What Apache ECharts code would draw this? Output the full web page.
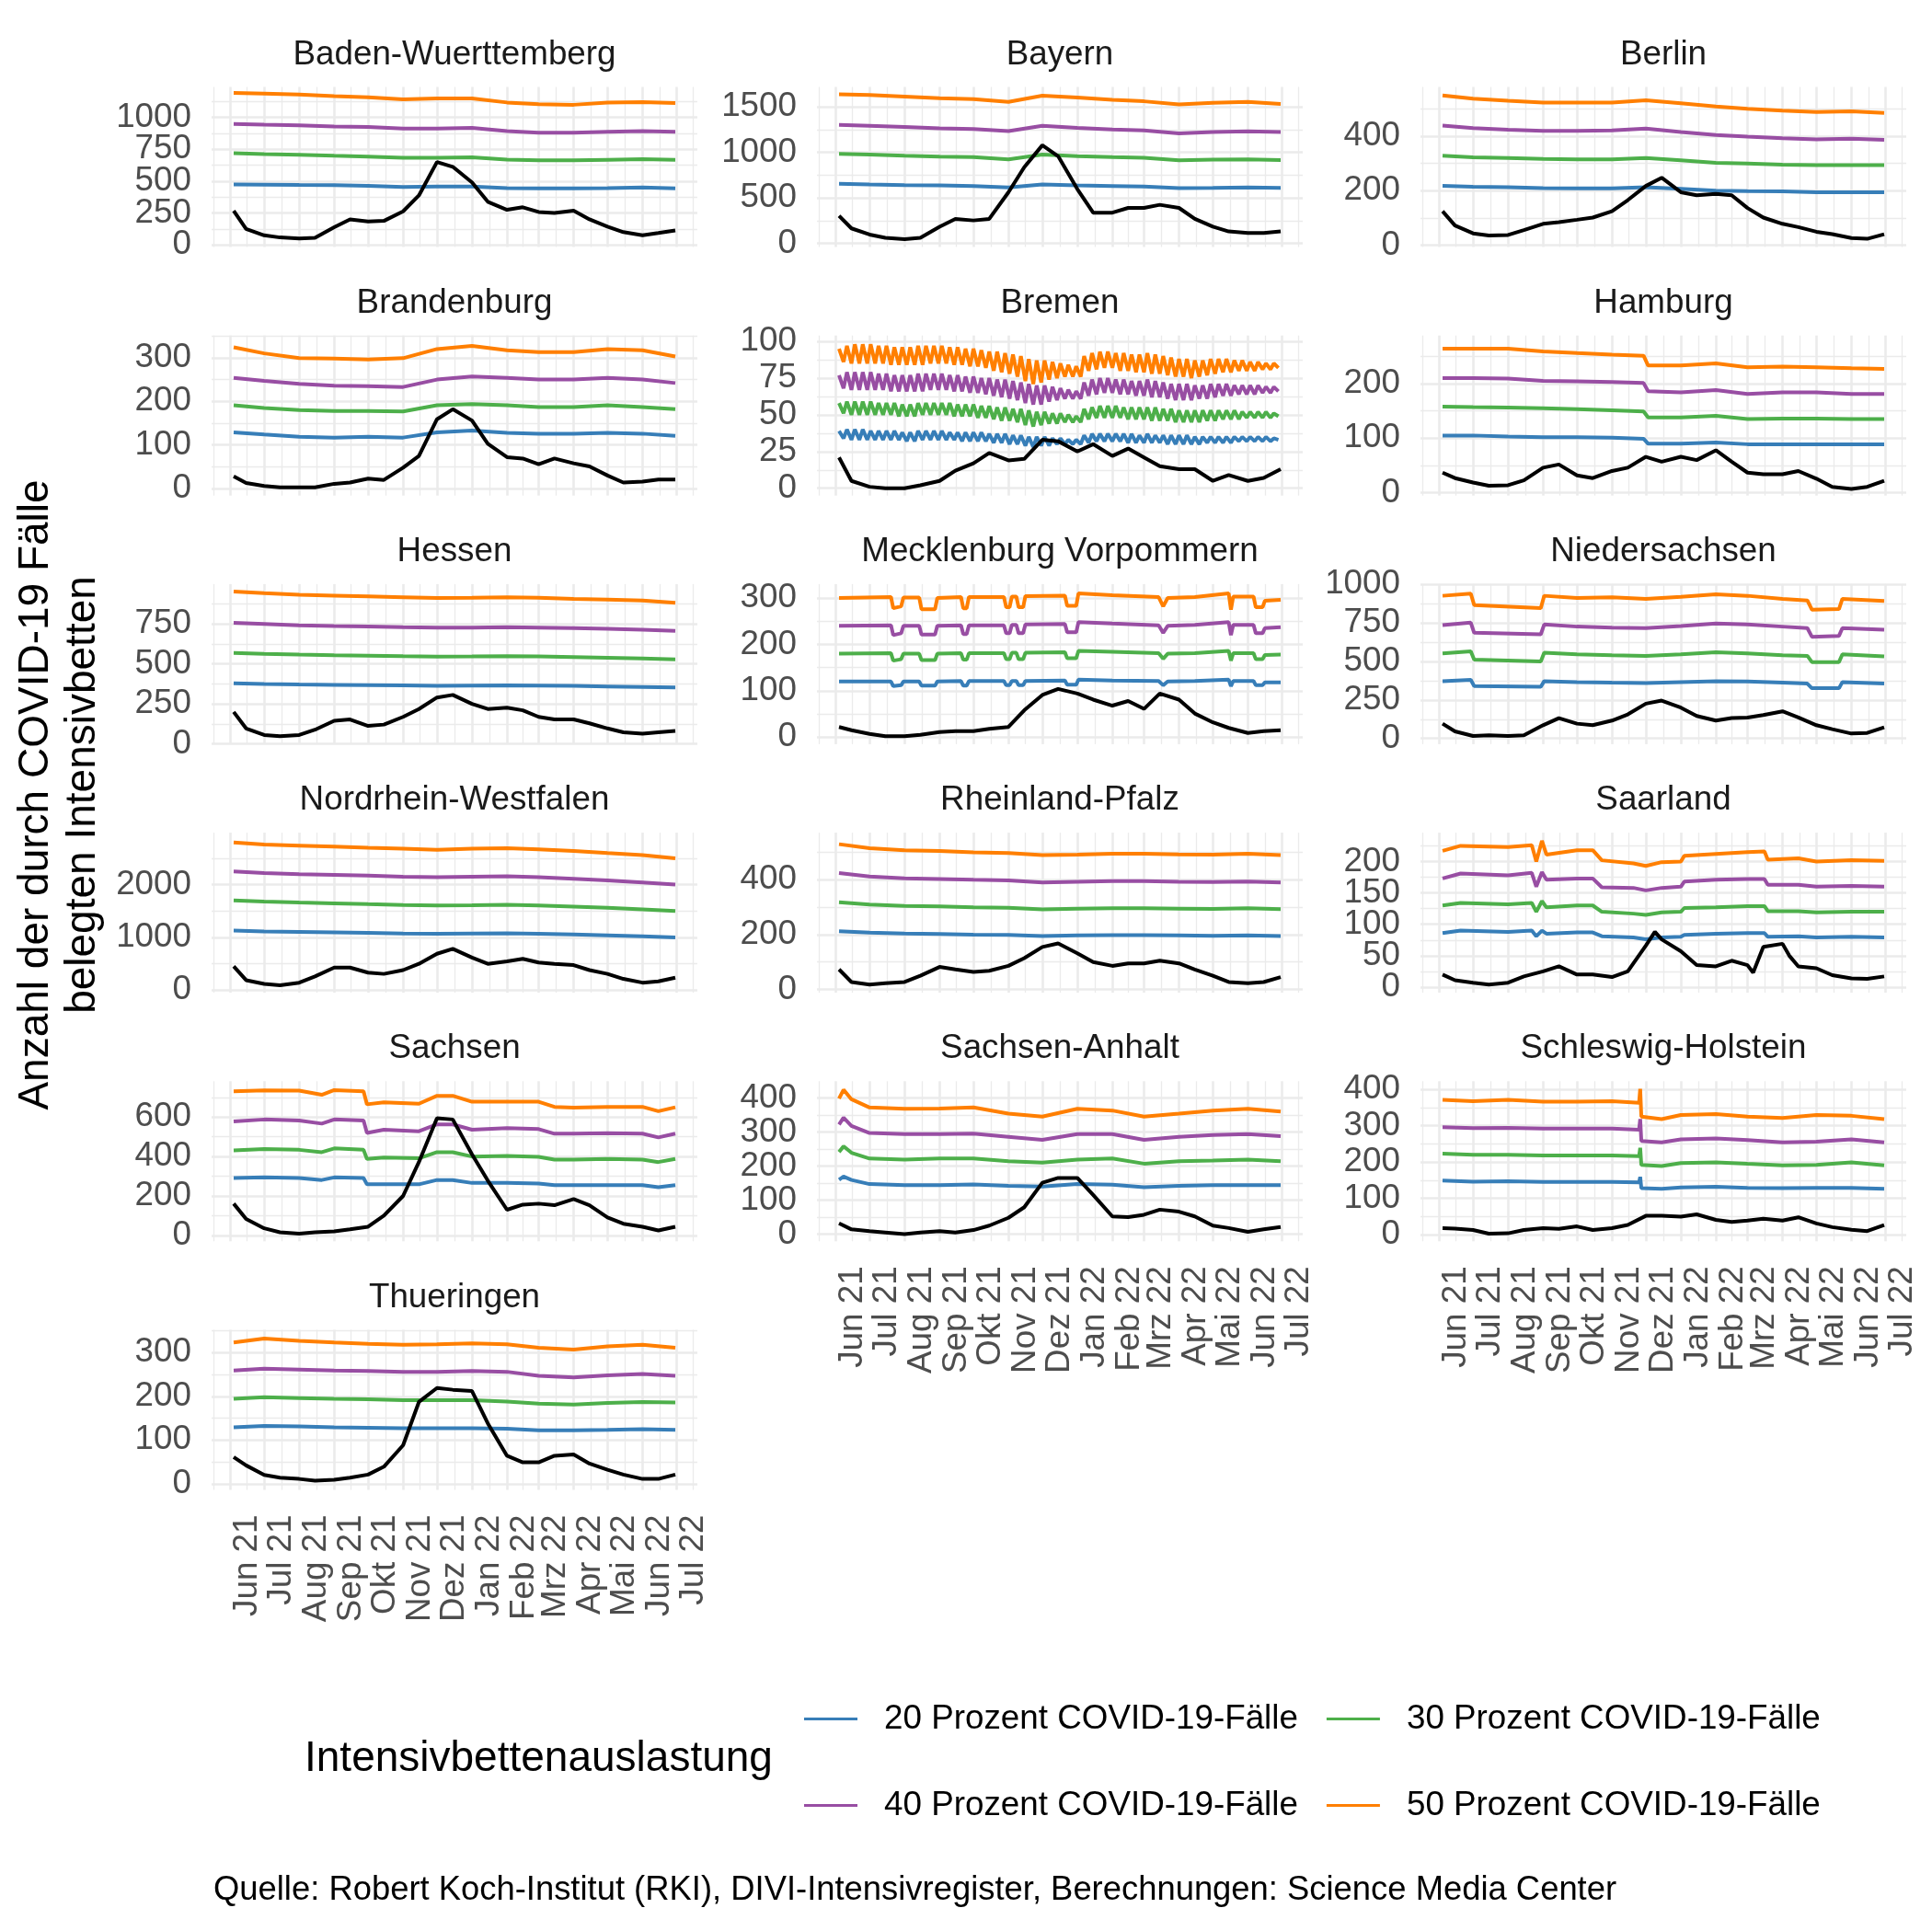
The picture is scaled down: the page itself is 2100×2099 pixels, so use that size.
<!DOCTYPE html>
<html><head><meta charset="utf-8">
<script src="https://cdn.jsdelivr.net/npm/echarts@6/dist/echarts.min.js"></script>
<style>html,body{margin:0;padding:0;background:#fff}#c{width:2100px;height:2099px}</style>
</head><body><div id="c"></div>
<script>
const FONT = '"Liberation Sans", Arial, Helvetica, sans-serif';
const PANEL_NAMES = ['Baden-Wuerttemberg','Bayern','Berlin','Brandenburg','Bremen','Hamburg','Hessen','Mecklenburg Vorpommern','Niedersachsen','Nordrhein-Westfalen','Rheinland-Pfalz','Saarland','Sachsen','Sachsen-Anhalt','Schleswig-Holstein','Thueringen'];
const SERIES_NAMES = ['20 Prozent COVID-19-Fälle','30 Prozent COVID-19-Fälle','40 Prozent COVID-19-Fälle','50 Prozent COVID-19-Fälle'];
const ACTUAL_NAME = 'Belegte Intensivbetten';
const COLORS = ['#377EB8','#4DAF4A','#984EA3','#FF7F00'];
const X_TICKS = ['2021-06-01','2021-07-01','2021-08-01','2021-09-01','2021-10-01','2021-11-01','2021-12-01','2022-01-01','2022-02-01','2022-03-01','2022-04-01','2022-05-01','2022-06-01','2022-07-01'];
const X_TICK_LABELS = ['Jun 21','Jul 21','Aug 21','Sep 21','Okt 21','Nov 21','Dez 21','Jan 22','Feb 22','Mrz 22','Apr 22','Mai 22','Jun 22','Jul 22'];
const Y_BREAKS = [[0,250,500,750,1000],[0,500,1000,1500],[0,200,400],[0,100,200,300],[0,25,50,75,100],[0,100,200],[0,250,500,750],[0,100,200,300],[0,250,500,750,1000],[0,1000,2000],[0,200,400],[0,50,100,150,200],[0,200,400,600],[0,100,200,300,400],[0,100,200,300,400],[0,100,200,300]];
const Y_LIM = [[-17,1240],[-40,1720],[-7,580],[-16,351],[-5,104],[-5,288],[-1,997],[-15,330],[-37,1002],[-48,2985],[-12,572],[-9,246],[-30,782],[-21,449],[-18,422],[-14,352]];

const D_MONTH = ['2021-06-04','2021-07-01','2021-08-01','2021-09-01','2021-10-01','2021-11-01','2021-12-01','2022-01-01','2022-02-01','2022-03-01','2022-04-01','2022-05-01','2022-06-01','2022-06-30'];
const D_SEMI = ['2021-06-04','2021-06-15','2021-07-01','2021-07-15','2021-08-01','2021-08-15','2021-09-01','2021-09-15','2021-10-01','2021-10-15','2021-11-01','2021-11-15','2021-12-01','2021-12-15','2022-01-01','2022-01-15','2022-02-01','2022-02-15','2022-03-01','2022-03-15','2022-04-01','2022-04-15','2022-05-01','2022-05-15','2022-06-01','2022-06-15','2022-06-30'];

// Baden-Wuerttemberg
const bw20 = [475,473,470,468,463,455,458,458,445,443,443,445,450,443];
const bw30 = [720,713,708,700,693,683,683,688,670,663,663,668,673,668];
const bw40 = [950,943,938,930,925,913,913,918,893,880,880,888,893,888];
const bw50 = [1193,1188,1180,1168,1158,1143,1150,1150,1118,1105,1100,1118,1120,1113];
const bwAct = [268,125,75,58,50,55,138,200,183,188,263,388,650,613,490,338,275,295,258,250,268,200,143,100,75,93,113];
// Bayern
const by20 = [655,648,641,638,631,614,648,638,631,624,607,610,614,610];
const by30 = [983,976,965,955,948,924,976,959,948,941,914,921,924,917];
const by40 = [1303,1293,1279,1265,1258,1234,1293,1269,1252,1241,1210,1224,1231,1224];
const by50 = [1638,1631,1614,1596,1586,1555,1624,1603,1579,1562,1528,1545,1555,1534];
const byAct = [303,165,97,62,45,62,183,269,252,269,562,838,1079,958,597,338,338,390,390,424,390,269,183,131,114,114,131];
// Berlin
const be20 = [217,214,212,209,208,208,212,206,200,198,197,194,194,194];
const be30 = [328,322,319,316,314,314,319,311,302,299,295,293,293,293];
const be40 = [438,429,423,419,419,421,427,415,404,398,392,388,390,386];
const be50 = [549,537,529,523,523,523,531,520,508,500,493,488,491,485];
const beAct = [124,72,43,35,37,55,78,84,93,101,124,165,217,247,194,183,188,183,136,101,78,66,49,40,26,23,40];
// Brandenburg
const bb20 = [129,124,119,117,119,117,129,133,128,126,126,128,126,121];
const bb30 = [191,185,180,178,178,177,191,194,191,187,187,191,187,182];
const bb40 = [254,247,240,236,235,233,250,257,254,250,250,254,250,242];
const bb50 = [324,310,299,298,296,299,320,327,317,313,313,320,317,303];
const bbAct = [28,13,6,3,3,3,11,14,23,20,48,75,159,182,156,103,72,69,56,69,58,51,30,14,16,21,21];
// Bremen (weekly highs and lows)
const hb20hi = [39,40,40,40,39,39,39,39,38,38,39,39,39,39,38,38,38,38,38,37,37,37,36,36,35,35,35,34,34,33,33,36,37,37,37,37,37,37,36,37,36,36,36,36,36,35,35,35,35,35,35,35,35,35,35,34];
const hb20lo = [34,33,33,33,33,33,33,33,32,32,33,33,33,33,33,32,32,32,32,31,31,30,30,29,28,29,29,30,30,30,30,31,32,32,32,32,31,31,31,31,31,30,30,30,30,30,31,31,31,31,32,32,32,32,32,33];
const hb30hi = [58,59,59,59,59,58,58,58,57,57,58,58,58,58,58,57,57,57,56,56,55,55,54,54,53,52,52,51,51,50,49,54,55,56,56,56,55,55,55,55,55,54,54,53,53,53,53,53,53,53,53,52,52,52,52,51];
const hb30lo = [51,50,50,50,50,50,50,49,49,49,50,50,50,50,49,49,49,48,48,47,46,46,45,43,42,43,44,44,45,45,45,47,48,48,48,48,47,47,47,46,46,46,45,45,45,45,46,46,47,47,47,48,48,48,48,49];
const hb40hi = [77,79,79,79,79,78,78,77,77,77,78,78,78,78,77,77,76,76,75,75,74,74,73,72,71,70,70,69,68,67,66,72,74,75,75,74,74,73,73,74,73,72,71,71,71,70,70,71,71,71,70,70,70,70,69,69];
const hb40lo = [68,67,67,67,67,67,66,66,66,66,66,67,67,67,66,66,65,65,64,63,62,61,60,58,57,57,59,60,61,61,61,63,64,65,65,64,64,63,63,62,62,61,60,60,60,61,61,62,63,63,64,64,64,65,65,66];
const hb50hi = [95,97,98,98,98,97,97,96,96,96,97,97,97,97,96,96,95,95,94,93,93,92,91,90,88,87,87,86,85,84,83,90,92,93,93,92,92,91,91,92,91,90,89,88,88,87,87,88,88,88,87,87,86,86,85,85];
const hb50lo = [86,85,85,85,85,85,84,84,84,84,84,85,85,85,84,84,83,83,82,80,79,78,76,73,71,72,74,75,76,76,76,80,81,82,82,80,80,79,79,78,78,77,76,76,75,76,77,78,79,79,80,80,80,81,81,82];
const hbAct = [21,5,1,0,0,2,5,12,17,24,19,20,33,32,25,30,22,27,21,15,13,13,5,9,5,7,13];
// Hamburg
const D_HH = ['2021-06-04','2021-07-01','2021-08-01','2021-09-01','2021-10-01','2021-11-01','2021-11-29','2021-12-03','2022-01-01','2022-02-01','2022-03-01','2022-04-01','2022-05-01','2022-06-01','2022-06-30'];
const hh20 = [105,105,103,102,102,101,99,90,90,92,89,89,89,89,89];
const hh30 = [158,157,156,155,153,151,149,138,138,141,135,136,136,135,135];
const hh40 = [210,210,209,205,204,203,201,186,184,188,181,184,184,181,181];
const hh50 = [264,264,264,259,256,253,251,233,233,237,230,231,230,228,227];
const hhAct = [37,27,19,13,14,23,46,52,32,27,40,46,66,57,66,60,78,57,37,34,34,40,26,11,7,11,22];
// Hessen
const he20 = [378,374,371,369,367,365,363,364,365,364,362,359,356,352];
const he30 = [568,562,557,553,550,547,545,546,548,546,542,538,533,528];
const he40 = [755,748,740,735,732,728,725,726,728,726,722,718,712,705];
const he50 = [950,940,930,925,920,915,910,912,915,912,905,900,895,880];
const heAct = [200,97,56,48,56,89,145,153,113,121,169,218,290,306,250,218,226,210,169,153,153,129,97,73,64,73,81];
// Mecklenburg Vorpommern
const D_MV = ['2021-06-04','2021-07-20','2021-07-22','2021-07-29','2021-07-31','2021-08-14','2021-08-16','2021-08-28','2021-08-30','2021-09-20','2021-09-22','2021-09-25','2021-09-27','2021-10-28','2021-10-30','2021-11-02','2021-11-04','2021-11-08','2021-11-10','2021-11-14','2021-11-16','2021-12-21','2021-12-23','2021-12-31','2022-01-02','2022-02-01','2022-03-14','2022-03-18','2022-03-22','2022-04-15','2022-05-15','2022-05-17','2022-05-19','2022-06-06','2022-06-08','2022-06-14','2022-06-16','2022-06-30'];
const mv20 = [120,120,110,112,120,120,111,111,120,121,111,111,121,121,112,112,121,121,112,112,121,122,113,113,124,122,121,112,120,121,124,110,121,121,112,112,118,118];
const mv30 = [180,181,165,168,180,180,166,166,180,181,167,167,181,181,168,168,182,182,168,168,182,183,170,170,186,184,181,169,180,181,186,165,181,181,168,168,177,178];
const mv40 = [240,241,220,224,240,240,221,221,240,241,222,222,241,241,224,224,242,242,224,224,243,244,226,226,248,245,241,225,240,242,248,220,242,242,224,224,235,237];
const mv50 = [300,302,278,282,301,301,276,276,300,302,278,278,302,302,280,280,303,303,280,280,304,305,283,283,310,306,302,282,300,302,310,275,303,303,280,280,294,296];
const mvAct = [22,15,7,2,2,5,11,13,13,18,22,58,91,104,94,81,68,78,61,94,81,51,32,20,9,13,15];
// Niedersachsen
const D_NI = ['2021-06-04','2021-06-29','2021-07-02','2021-08-30','2021-09-02','2021-10-01','2021-11-01','2021-12-01','2022-01-01','2022-02-01','2022-03-01','2022-04-01','2022-04-23','2022-04-27','2022-05-21','2022-05-24','2022-06-30'];
const ni20 = [372,380,340,336,372,366,362,360,366,372,370,362,356,326,326,366,356];
const ni30 = [552,566,512,500,556,546,540,536,546,560,552,540,536,496,496,546,532];
const ni40 = [736,752,686,676,740,726,720,716,730,746,740,726,716,660,666,716,706];
const ni50 = [926,940,866,846,926,912,916,906,920,936,926,906,896,836,840,906,892];
const niAct = [96,46,16,20,16,20,86,132,96,86,116,156,226,246,200,146,116,132,136,152,176,136,86,60,32,36,72];
// Nordrhein-Westfalen
const nw20 = [1130,1115,1105,1095,1085,1075,1070,1075,1080,1070,1055,1040,1020,1000];
const nw30 = [1700,1680,1660,1645,1630,1615,1605,1610,1620,1605,1585,1560,1530,1500];
const nw40 = [2250,2220,2200,2185,2170,2150,2140,2150,2160,2140,2110,2080,2040,2000];
const nw50 = [2800,2760,2740,2720,2700,2680,2660,2680,2690,2670,2640,2600,2560,2500];
const nwAct = [452,190,119,95,143,262,428,428,333,309,381,500,690,785,619,500,547,595,524,500,476,381,309,214,143,167,238];
// Rheinland-Pfalz
const rp20 = [212,207,204,202,200,199,195,197,198,198,197,196,197,195];
const rp30 = [318,310,305,303,300,298,292,295,296,296,295,294,296,293];
const rp40 = [425,412,405,403,400,398,390,393,395,395,393,392,394,390];
const rp50 = [530,515,508,505,500,498,490,492,495,495,493,492,495,490];
const rpAct = [73,27,18,23,27,50,82,73,64,68,86,114,155,168,132,100,86,95,95,105,95,73,50,27,23,27,45];
// Saarland
const D_SL = ['2021-06-04','2021-06-20','2021-08-01','2021-08-22','2021-08-26','2021-08-31','2021-09-04','2021-10-01','2021-10-15','2021-10-23','2021-11-20','2021-12-01','2021-12-15','2022-01-01','2022-01-04','2022-02-01','2022-03-01','2022-03-16','2022-03-19','2022-04-15','2022-05-01','2022-06-01','2022-06-30'];
const sl20 = [86,90,88,90,81,90,85,87,87,81,79,76,79,80,83,85,86,86,80,81,79,80,79];
const sl30 = [130,134,132,134,120,137,127,130,130,120,117,115,119,120,126,127,129,129,121,121,119,120,120];
const sl40 = [173,181,178,182,160,183,171,173,173,159,158,154,158,160,168,171,172,172,163,163,160,161,160];
const sl50 = [217,225,223,226,200,233,211,218,218,202,197,193,199,200,209,212,215,216,203,205,200,202,201];
const D_SL_ACT = ['2021-06-04','2021-06-15','2021-07-01','2021-07-15','2021-08-01','2021-08-15','2021-09-01','2021-09-15','2021-10-01','2021-10-15','2021-11-01','2021-11-15','2021-12-01','2021-12-09','2021-12-15','2022-01-01','2022-01-15','2022-02-01','2022-02-15','2022-03-01','2022-03-06','2022-03-15','2022-04-01','2022-04-07','2022-04-15','2022-05-01','2022-05-15','2022-06-01','2022-06-15','2022-06-30'];
const slAct = [20,11,7,4,7,17,25,33,20,20,16,25,66,88,76,57,35,33,42,35,23,64,69,50,33,30,19,14,13,17];
// Sachsen
const D_SN = ['2021-06-04','2021-07-01','2021-08-01','2021-08-21','2021-09-01','2021-09-27','2021-09-30','2021-10-15','2021-11-15','2021-12-01','2021-12-15','2022-01-01','2022-02-01','2022-03-01','2022-03-15','2022-04-01','2022-05-01','2022-06-01','2022-06-15','2022-06-30'];
const sn20 = [291,294,291,281,294,291,259,259,259,281,281,266,266,263,255,255,255,255,244,255];
const sn30 = [431,438,434,422,441,434,388,395,391,422,422,400,403,398,384,384,388,384,372,388];
const sn40 = [578,588,583,567,588,583,520,536,528,563,563,536,544,539,516,516,519,516,497,516];
const sn50 = [731,736,734,713,737,731,665,675,668,708,708,678,678,678,652,648,652,652,630,650];
const snAct = [161,83,36,16,9,16,20,31,44,100,200,372,594,588,411,278,130,156,161,153,184,153,91,59,44,25,44];
// Sachsen-Anhalt
const D_ST = ['2021-06-04','2021-06-08','2021-06-15','2021-07-01','2021-08-01','2021-09-01','2021-10-01','2021-11-01','2021-12-01','2022-01-01','2022-02-01','2022-03-01','2022-04-01','2022-05-01','2022-06-01','2022-06-30'];
const st20 = [160,169,159,147,144,144,146,142,140,147,145,138,142,144,144,144];
const st30 = [241,258,239,222,219,222,222,214,210,219,222,207,214,216,219,214];
const st40 = [322,342,318,297,294,294,295,286,277,294,294,277,286,291,294,288];
const st50 = [398,424,396,372,368,369,372,354,345,368,363,345,354,363,368,360];
const stAct = [32,14,9,5,0,5,9,5,12,25,48,79,151,165,165,115,52,50,57,72,66,52,25,18,7,14,21];
// Schleswig-Holstein
const D_SH = ['2021-06-04','2021-07-01','2021-08-01','2021-09-01','2021-10-01','2021-11-01','2021-11-25','2021-11-26','2021-11-27','2021-12-15','2022-01-01','2022-02-01','2022-03-01','2022-04-01','2022-05-01','2022-06-01','2022-06-30'];
const sh20 = [149,146,147,145,145,145,144,159,128,126,130,132,129,128,129,129,126];
const sh30 = [223,220,220,218,218,218,216,239,192,189,197,199,195,191,192,199,191];
const sh40 = [296,293,294,292,292,292,289,318,258,254,262,265,260,254,256,262,254];
const sh50 = [371,367,371,366,366,367,363,401,325,318,329,332,325,321,329,327,318];
const shAct = [18,17,13,3,4,13,18,16,23,13,18,27,52,52,50,56,41,35,39,44,39,48,31,21,14,10,27];
// Thueringen
const th20 = [129,132,131,129,128,127,127,127,126,122,122,123,125,123];
const th30 = [194,198,196,194,193,191,191,191,188,183,181,185,187,186];
const th40 = [259,263,261,259,258,256,256,258,256,247,243,248,251,247];
const th50 = [323,332,327,323,320,318,319,321,319,311,307,314,318,311];
const thAct = [61,42,20,14,11,7,9,14,21,39,88,187,219,215,212,138,64,49,49,64,67,46,32,21,11,11,21];

// ---------- build ----------
function ts(s){const p=s.split('-').map(Number);return new Date(p[0],p[1]-1,p[2]).getTime();}
const DAY = 86400000;
const D_HB = [];
(function(){const s=new Date(2021,5,4).getTime();for(let w=0;w<56;w++){D_HB.push(s+7*w*DAY);D_HB.push(s+(7*w+4)*DAY);}})();
function zig(hi,lo){const r=[];for(let i=0;i<hi.length;i++){r.push(hi[i]);r.push(lo[i]);}return r;}

const PANELS = [
 [D_MONTH,[bw20,bw30,bw40,bw50],D_SEMI,bwAct],
 [D_MONTH,[by20,by30,by40,by50],D_SEMI,byAct],
 [D_MONTH,[be20,be30,be40,be50],D_SEMI,beAct],
 [D_MONTH,[bb20,bb30,bb40,bb50],D_SEMI,bbAct],
 [D_HB,[zig(hb20hi,hb20lo),zig(hb30hi,hb30lo),zig(hb40hi,hb40lo),zig(hb50hi,hb50lo)],D_SEMI,hbAct],
 [D_HH,[hh20,hh30,hh40,hh50],D_SEMI,hhAct],
 [D_MONTH,[he20,he30,he40,he50],D_SEMI,heAct],
 [D_MV,[mv20,mv30,mv40,mv50],D_SEMI,mvAct],
 [D_NI,[ni20,ni30,ni40,ni50],D_SEMI,niAct],
 [D_MONTH,[nw20,nw30,nw40,nw50],D_SEMI,nwAct],
 [D_MONTH,[rp20,rp30,rp40,rp50],D_SEMI,rpAct],
 [D_SL,[sl20,sl30,sl40,sl50],D_SL_ACT,slAct],
 [D_SN,[sn20,sn30,sn40,sn50],D_SEMI,snAct],
 [D_ST,[st20,st30,st40,st50],D_SEMI,stAct],
 [D_SH,[sh20,sh30,sh40,sh50],D_SEMI,shAct],
 [D_MONTH,[th20,th30,th40,th50],D_SEMI,thAct]
];

const X_MIN = new Date(2021,4,15,11).getTime();
const X_MAX = new Date(2022,6,19,13).getTime();
const XT = X_TICKS.map(ts);
const xMinor = [];
xMinor.push(XT[0]-(XT[1]-XT[0])/2);
for(let i=0;i<XT.length-1;i++) xMinor.push((XT[i]+XT[i+1])/2);
xMinor.push(XT[XT.length-1]+(XT[XT.length-1]-XT[XT.length-2])/2);

const COL_LEFT=[230,888,1544], PW=528, PH=174, TOP0=94.5, ROWSTEP=270.2;
const GRID_COL='#EBEBEB', MAJ_W=2.6, MIN_W=1.3, LINE_W=4;
const SMALL=36.8, BIG=46;

const grids=[],xAxes=[],yAxes=[],series=[],graphics=[];
function toPairs(dates,vals){return vals.map((v,k)=>[typeof dates[k]==='number'?dates[k]:ts(dates[k]),v]);}
function xLabel(v){let b=0,bd=Infinity;XT.forEach((t,k)=>{const d=Math.abs(t-v);if(d<bd){bd=d;b=k;}});return X_TICK_LABELS[b];}
function yAxisDef(i,lim,vals){
  return {type:'value',gridIndex:i,position:'left',offset:0,min:lim[0],max:lim[1],
    axisLine:{show:false},axisTick:{show:false},splitLine:{show:false},
    axisLabel:{customValues:vals,formatter:function(v){return String(v);},fontSize:SMALL,hideOverlap:false,showMinLabel:true,showMaxLabel:true,color:'#4d4d4d',fontFamily:FONT,margin:22}};
}

PANELS.forEach((p,i)=>{
  const col=i%3,row=Math.floor(i/3);
  const left=COL_LEFT[col], top=TOP0+ROWSTEP*row;
  const bottomPanel=(i===13||i===14||i===15);
  grids.push({left:left,top:top,width:PW,height:PH,containLabel:false});
  xAxes.push({type:'value',gridIndex:i,min:X_MIN,max:X_MAX,scale:true,
    axisLine:{show:false},axisTick:{show:false},splitLine:{show:false},minorSplitLine:{show:false},
    axisLabel: bottomPanel ? {show:true,customValues:XT,rotate:90,margin:27,fontSize:SMALL,color:'#4d4d4d',fontFamily:FONT,verticalAlign:'top',hideOverlap:false,showMinLabel:true,showMaxLabel:true,formatter:xLabel} : {show:false}});
  const br=Y_BREAKS[i], lim=Y_LIM[i];
  // labels split over two overlaid axes so none are auto-hidden
  const yi=yAxes.length;
  yAxes.push(yAxisDef(i,lim,br.filter((v,k)=>k%2===0)));
  yAxes.push(yAxisDef(i,lim,br.filter((v,k)=>k%2===1)));
  const step=br[1]-br[0];
  const gl=[];
  for(let v=br[0]-step/2; v<=br[br.length-1]+step/2+1e-9; v+=step){ if(v>lim[0]&&v<lim[1]) gl.push({yAxis:v,lineStyle:{width:MIN_W,color:GRID_COL}}); }
  br.forEach(v=>{ if(v>=lim[0]&&v<=lim[1]) gl.push({yAxis:v,lineStyle:{width:MAJ_W,color:GRID_COL}}); });
  xMinor.forEach(v=>{ if(v>X_MIN&&v<X_MAX) gl.push({xAxis:v,lineStyle:{width:MIN_W,color:GRID_COL}}); });
  XT.forEach(v=>{ gl.push({xAxis:v,lineStyle:{width:MAJ_W,color:GRID_COL}}); });
  series.push({type:'line',name:'_grid'+i,xAxisIndex:i,yAxisIndex:yi,data:[],silent:true,z:0,
    markLine:{silent:true,symbol:['none','none'],label:{show:false},emphasis:{disabled:true},animation:false,z:0,
      lineStyle:{type:'solid',color:GRID_COL},data:gl}});
  p[1].forEach((vals,k)=>{
    series.push({type:'line',name:SERIES_NAMES[k],xAxisIndex:i,yAxisIndex:yi,data:toPairs(p[0],vals),
      showSymbol:false,symbol:'none',color:COLORS[k],lineStyle:{width:LINE_W,color:COLORS[k]},z:2,silent:true,animation:false});
  });
  series.push({type:'line',name:ACTUAL_NAME,xAxisIndex:i,yAxisIndex:yi,data:toPairs(p[2],p[3]),
    showSymbol:false,symbol:'none',color:'#000000',lineStyle:{width:LINE_W,color:'#000000'},z:3,silent:true,animation:false});
  graphics.push({type:'text',x:left+PW/2,y:top-35,silent:true,
    style:{text:PANEL_NAMES[i],fill:'#1a1a1a',font:SMALL+'px '+FONT,textAlign:'center',textVerticalAlign:'middle',align:'center',verticalAlign:'middle'}});
});

graphics.push({type:'text',x:65,y:864,rotation:Math.PI/2,silent:true,
  style:{text:'Anzahl der durch COVID-19 Fälle\nbelegten Intensivbetten',fill:'#000',font:BIG+'px '+FONT,lineHeight:51,textAlign:'center',textVerticalAlign:'middle',align:'center',verticalAlign:'middle'}});
graphics.push({type:'text',x:331,y:1912,silent:true,
  style:{text:'Intensivbettenauslastung',fill:'#000',font:BIG+'px '+FONT,textAlign:'left',textVerticalAlign:'middle',align:'left',verticalAlign:'middle'}});
graphics.push({type:'text',x:232,y:2055,silent:true,
  style:{text:'Quelle: Robert Koch-Institut (RKI), DIVI-Intensivregister, Berechnungen: Science Media Center',fill:'#000',font:'36.4px '+FONT,textAlign:'left',textVerticalAlign:'middle',align:'left',verticalAlign:'middle'}});

const legendBase={orient:'horizontal',left:874,padding:0,itemGap:31,itemWidth:58,itemHeight:3,icon:'rect',selectedMode:false,
  textStyle:{fontSize:SMALL,color:'#000',fontFamily:FONT,padding:[0,0,0,24]}};
const chart=echarts.init(document.getElementById('c'),null,{renderer:'canvas'});
chart.setOption({
  animation:false,
  backgroundColor:'#ffffff',
  textStyle:{fontFamily:FONT},
  grid:grids,xAxis:xAxes,yAxis:yAxes,series:series,graphic:graphics,
  legend:[
    Object.assign({},legendBase,{top:1850,data:[SERIES_NAMES[0],SERIES_NAMES[1]]}),
    Object.assign({},legendBase,{top:1944,data:[SERIES_NAMES[2],SERIES_NAMES[3]]})
  ]
});
</script></body></html>
